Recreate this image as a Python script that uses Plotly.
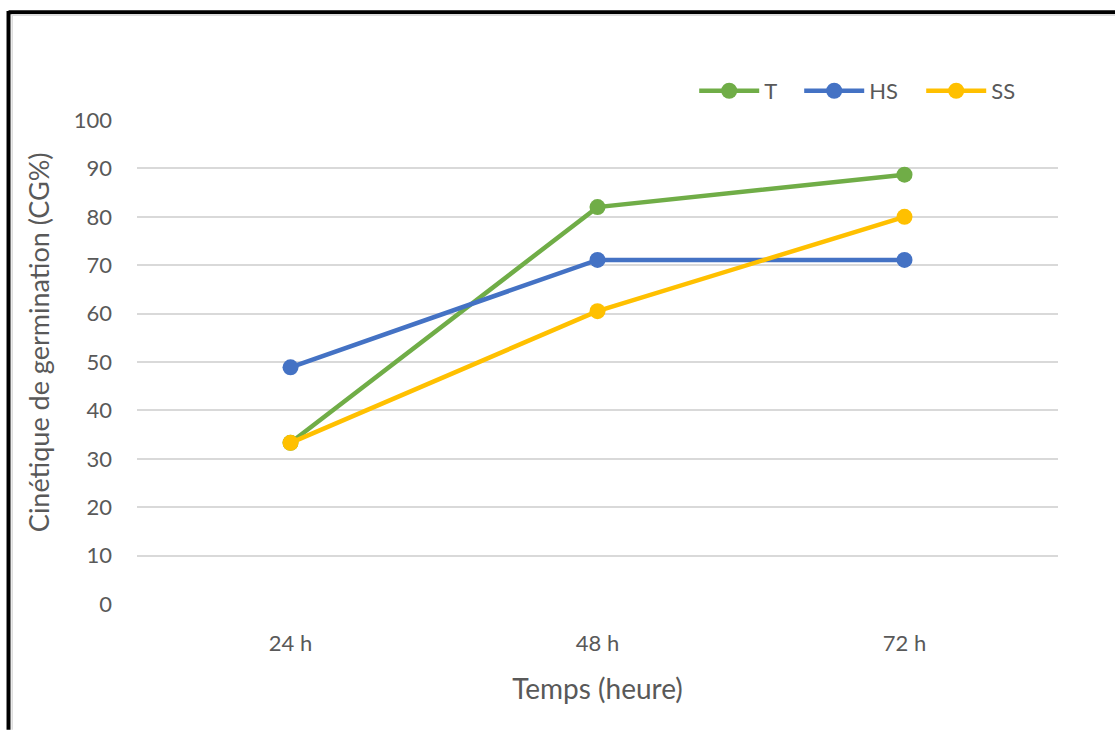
import plotly.graph_objects as go

# Germination kinetics over time for three treatments
temps = ["24 h", "48 h", "72 h"]
serie_t = [33.3, 82.0, 88.7]
serie_hs = [48.9, 71.1, 71.1]
serie_ss = [33.3, 60.5, 80.0]
y_ticks = [0, 10, 20, 30, 40, 50, 60, 70, 80, 90, 100]

series = [
    ("T", serie_t, "#70AD47", 30),
    ("HS", serie_hs, "#4472C4", 47),
    ("SS", serie_ss, "#FFC000", 30),
]

fig = go.Figure()
for name, vals, color, lw in series:
    fig.add_trace(go.Scatter(
        x=temps, y=vals, name=name, mode="lines+markers",
        line=dict(color=color, width=4.5),
        marker=dict(color=color, size=16),
        legendwidth=lw,
    ))

font_family = "Lato, Open Sans, sans-serif"
grey = "#595959"

fig.update_layout(
    width=1115, height=730,
    paper_bgcolor="white", plot_bgcolor="white",
    margin=dict(l=137, r=57, t=120, b=126),
    font=dict(family=font_family, color=grey, size=22),
    showlegend=True,
    legend=dict(
        orientation="h", x=0.605, y=1.06, xanchor="left", yanchor="middle",
        font=dict(size=22, color=grey), itemwidth=60,
        bgcolor="rgba(0,0,0,0)",
    ),
    xaxis=dict(
        type="category", range=[-0.5, 2.5],
        showgrid=False, showline=False, zeroline=False, ticks="",
        tickfont=dict(size=22, color=grey), ticklabelstandoff=24,
        title=dict(text="Temps (heure)", font=dict(size=28, color=grey), standoff=24),
    ),
    yaxis=dict(
        range=[0, 100], tickvals=y_ticks,
        showgrid=True, gridcolor="#D9D9D9", gridwidth=1.5,
        zeroline=False, showline=False, ticks="",
        tickfont=dict(size=22, color=grey), ticklabelstandoff=24,
    ),
)

# Vertical axis title
fig.add_annotation(
    text="Cinétique de germination (CG%)", textangle=-90,
    xref="paper", yref="paper", x=-0.1075, y=0.541,
    xanchor="center", yanchor="middle", showarrow=False,
    font=dict(size=27, color=grey, family=font_family),
)

# Frame around the chart: black left and top edges with a light inner rim
fig.add_shape(type="line", xref="paper", yref="paper",
              x0=-0.1395, x1=-0.1395, y0=-0.26, y1=1.225,
              line=dict(color="black", width=4))
fig.add_shape(type="line", xref="paper", yref="paper",
              x0=-0.1395, x1=1.07, y0=1.2225, y1=1.2225,
              line=dict(color="black", width=4))
fig.add_shape(type="line", xref="paper", yref="paper",
              x0=-0.136, x1=1.07, y0=1.217, y1=1.217,
              line=dict(color="#DDDDDD", width=2))
fig.add_shape(type="line", xref="paper", yref="paper",
              x0=-0.1355, x1=-0.1355, y0=-0.26, y1=1.217,
              line=dict(color="#DDDDDD", width=1.5))

fig.write_html("out.html")
